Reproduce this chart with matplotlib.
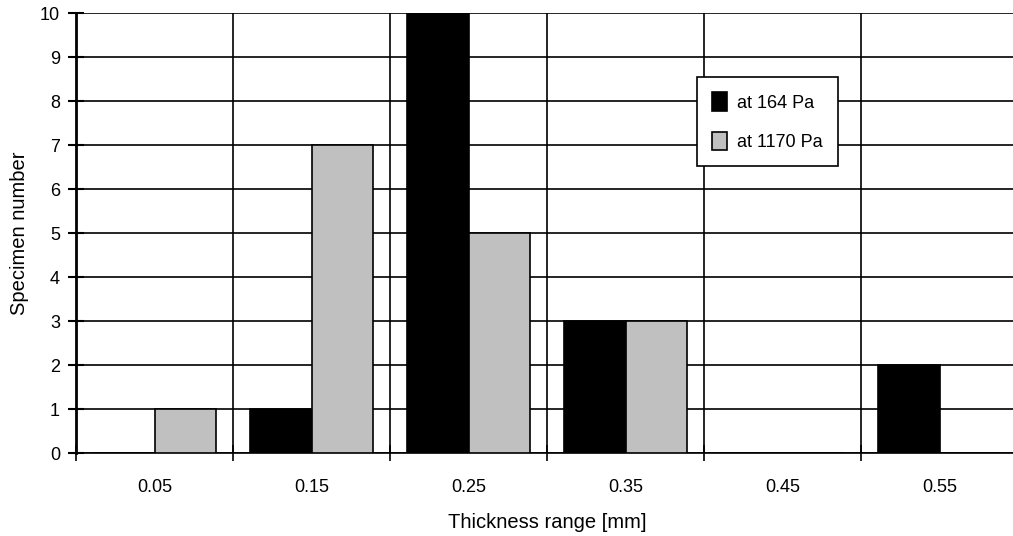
import numpy as np
import matplotlib.pyplot as plt

plt.rcParams['font.family'] = ['Liberation Sans', 'DejaVu Sans']

# ----- Data -----
categories = ['0.05', '0.15', '0.25', '0.35', '0.45', '0.55']
at_164 = [0, 1, 10, 3, 0, 2]
at_1170 = [1, 7, 5, 3, 0, 0]

W, H = 1013, 536
fig = plt.figure(figsize=(W / 100, H / 100), dpi=100)
ax = fig.add_axes([76 / W, 1 - 453 / H, (1018 - 76) / W, (453 - 13) / H])

x = np.arange(len(categories))
bw = 0.39
ax.bar(x - bw / 2, at_164, bw, color='black', edgecolor='black', lw=1.2,
       label='at 164 Pa', zorder=3)
ax.bar(x + bw / 2, at_1170, bw, color='#c0c0c0', edgecolor='black', lw=1.2,
       label='at 1170 Pa', zorder=3)

ax.set_xlim(-0.5, len(categories) - 0.5)
ax.set_ylim(0, 10)
ax.set_yticks(range(0, 11))

# x ticks on group boundaries, labels at centres
ax.set_xticks(np.arange(-0.5, len(categories), 1.0))
ax.set_xticklabels([])
ax.set_xticks(x, minor=True)
ax.set_xticklabels(categories, minor=True)
ax.tick_params(axis='x', which='minor', length=0, pad=19, labelsize=13)
ax.tick_params(axis='x', which='major', direction='inout', length=11, width=1.2)
ax.tick_params(axis='y', direction='inout', length=11, width=1.5, labelsize=13, pad=6)

ax.grid(True, which='major', color='black', lw=1.2, zorder=1)

for s in ['top', 'right']:
    ax.spines[s].set_visible(False)
ax.spines['left'].set_linewidth(2)
ax.spines['bottom'].set_linewidth(1.2)

ax.set_xlabel('Thickness range [mm]', fontsize=14.5, labelpad=12)
ax.set_ylabel('Specimen number', fontsize=14.5, labelpad=8)

leg = ax.legend(loc='upper left', bbox_to_anchor=(697 / W, 1 - 77 / H),
                bbox_transform=fig.transFigure, borderaxespad=0,
                fancybox=False, framealpha=1, edgecolor='black', fontsize=13,
                handlelength=0.8, handleheight=1.2, labelspacing=1.1,
                borderpad=0.85, handletextpad=0.55)
leg.get_frame().set_linewidth(1.2)

fig.savefig('out.png', dpi=100)
